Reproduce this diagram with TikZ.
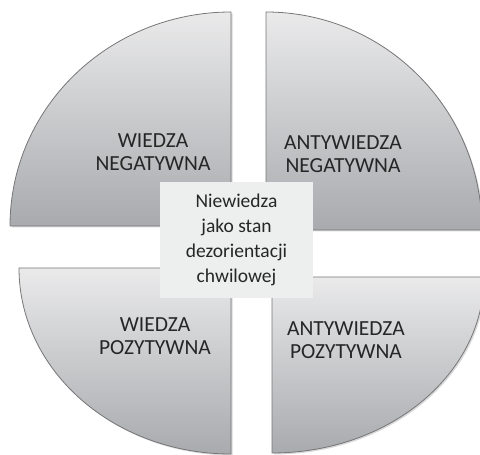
\documentclass[tikz,border=0pt]{standalone}
\usepackage{fontspec}
\setmainfont{Carlito}
\usepackage{tikz}
\usetikzlibrary{shadows}
\definecolor{mytop}{RGB}{234,234,235}
\definecolor{mybot}{RGB}{168,170,173}
\definecolor{myedge}{RGB}{118,118,120}
\definecolor{mybox}{RGB}{237,238,238}
\definecolor{mytext}{RGB}{38,38,38}
\tikzset{
  sector/.style={draw=myedge, line width=0.8pt, top color=mytop,
    bottom color=mybot,
    drop shadow={shadow xshift=1.5pt, shadow yshift=-1.5pt, opacity=0.3}},
  lbl/.style={align=center, text=mytext,
    font=\fontsize{21.5}{23.5}\selectfont},
  centrebox/.style={rectangle, fill=mybox, text=mytext, align=center,
    minimum width=153pt, minimum height=116pt, inner sep=0pt,
    font=\fontsize{19.5}{25}\selectfont}
}

\begin{document}
\begin{tikzpicture}[x=1pt, y=1pt]
\useasboundingbox (0,0) rectangle (480,455);
\clip (0,0) rectangle (480,455);
% quarters
\draw[sector] (231,229) -- (10,229)
  arc[start angle=180, end angle=90, x radius=221pt, y radius=214pt] -- cycle;
\draw[sector] (266,225) -- (266,443)
  arc[start angle=90, end angle=0, x radius=216pt, y radius=218pt] -- cycle;
\draw[sector] (231,187) -- (19,187)
  arc[start angle=180, end angle=270, x radius=212pt, y radius=186pt] -- cycle;
\draw[sector] (272,178) -- (272,2)
  arc[start angle=270, end angle=360, x radius=212pt, y radius=176pt] -- cycle;
% labels
\node[lbl] (wneg) at (153,303) {WIEDZA\\NEGATYWNA};
\node[lbl] (aneg) at (343,301) {ANTYWIEDZA\\NEGATYWNA};
\node[lbl] (wpoz) at (155,119) {WIEDZA\\POZYTYWNA};
\node[lbl] (apoz) at (346,115) {ANTYWIEDZA\\POZYTYWNA};
% centre
\node[centrebox] (centre) at (236.5,215)
  {Niewiedza\\jako stan\\dezorientacji\\chwilowej};
\end{tikzpicture}
\end{document}
